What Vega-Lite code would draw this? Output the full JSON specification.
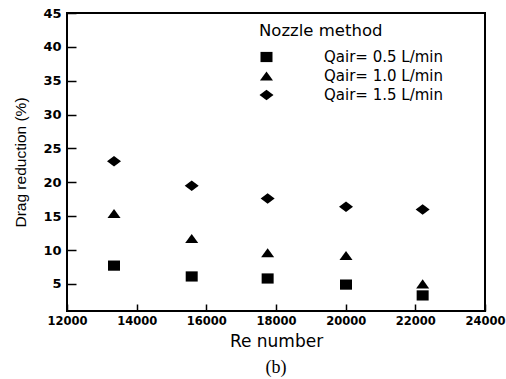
{
  "$schema": "https://vega.github.io/schema/vega-lite/v6.json",
  "width": 418,
  "height": 298,
  "autosize": {"type": "none"},
  "padding": {"left": 67, "top": 13, "right": 21, "bottom": 68},
  "background": "white",
  "title": {"text": "(b)", "orient": "bottom", "font": "Liberation Serif", "fontSize": 18, "fontWeight": "normal", "color": "black", "offset": 9, "anchor": "middle"},
  "config": {
    "view": {"stroke": "black", "strokeWidth": 2}
  },
  "data": {
    "values": [
      {"Re": 13350, "dr": 7.7, "q": "Qair= 0.5 L/min"},
      {"Re": 15580, "dr": 6.1, "q": "Qair= 0.5 L/min"},
      {"Re": 17760, "dr": 5.8, "q": "Qair= 0.5 L/min"},
      {"Re": 20010, "dr": 4.9, "q": "Qair= 0.5 L/min"},
      {"Re": 22210, "dr": 3.3, "q": "Qair= 0.5 L/min"},
      {"Re": 13350, "dr": 15.4, "q": "Qair= 1.0 L/min"},
      {"Re": 15580, "dr": 11.7, "q": "Qair= 1.0 L/min"},
      {"Re": 17760, "dr": 9.6, "q": "Qair= 1.0 L/min"},
      {"Re": 20010, "dr": 9.2, "q": "Qair= 1.0 L/min"},
      {"Re": 22210, "dr": 5.0, "q": "Qair= 1.0 L/min"},
      {"Re": 13350, "dr": 23.1, "q": "Qair= 1.5 L/min"},
      {"Re": 15580, "dr": 19.5, "q": "Qair= 1.5 L/min"},
      {"Re": 17760, "dr": 17.6, "q": "Qair= 1.5 L/min"},
      {"Re": 20010, "dr": 16.4, "q": "Qair= 1.5 L/min"},
      {"Re": 22210, "dr": 16.0, "q": "Qair= 1.5 L/min"}
    ]
  },
  "mark": {"type": "point", "filled": true, "opacity": 1, "color": "black"},
  "encoding": {
    "x": {"field": "Re", "type": "quantitative",
      "scale": {"domain": [12000, 24000], "nice": false, "zero": false},
      "axis": {"orient": "bottom", "values": [12000, 14000, 16000, 18000, 20000, 22000, 24000], "format": "d", "grid": false, "ticks": true, "tickSize": 7, "tickWidth": 1.5, "tickColor": "black", "offset": -7, "domain": false, "labelColor": "black", "labelFont": "DejaVu Sans", "labelFontWeight": "bold", "labelFontSize": 11.5, "labelPadding": 4, "labelFlush": false, "title": "Re number", "titleColor": "black", "titleFont": "DejaVu Sans", "titleFontSize": 17, "titleFontWeight": "normal", "titlePadding": 7}},
    "y": {"field": "dr", "type": "quantitative",
      "scale": {"domain": [1, 45], "nice": false, "zero": false},
      "axis": {"orient": "left", "values": [5, 10, 15, 20, 25, 30, 35, 40, 45], "grid": false, "ticks": true, "tickSize": 9, "tickWidth": 1.5, "tickColor": "black", "offset": -9, "domain": false, "labelColor": "black", "labelFont": "DejaVu Sans", "labelFontWeight": "bold", "labelFontSize": 13, "labelPadding": 6, "labelFlush": false, "title": "Drag reduction (%)", "titleColor": "black", "titleFont": "Liberation Sans", "titleFontSize": 15.5, "titleFontWeight": "normal", "titlePadding": 14}},
    "shape": {"field": "q", "type": "nominal",
      "scale": {"domain": ["Qair= 0.5 L/min", "Qair= 1.0 L/min", "Qair= 1.5 L/min"], "range": ["M-1,-0.85H1V0.85H-1Z", "M0,-0.7L1,0.7L-1,0.7Z", "M-1,0L0,-0.75L1,0L0,0.75Z"]},
      "legend": {"title": "Nozzle method", "orient": "none", "legendX": 192, "legendY": 10, "padding": 0, "titleFont": "DejaVu Sans", "titleFontSize": 16.5, "titleFontWeight": "normal", "titleColor": "black", "titlePadding": 10, "labelFont": "DejaVu Sans", "labelFontSize": 15, "labelColor": "black", "labelOffset": 50, "rowPadding": 3, "symbolFillColor": "black", "symbolStrokeColor": "black", "symbolStrokeWidth": 0}},
    "size": {"field": "q", "type": "ordinal",
      "scale": {"domain": ["Qair= 0.5 L/min", "Qair= 1.0 L/min", "Qair= 1.5 L/min"], "range": [144, 196, 256]}}
  }
}
